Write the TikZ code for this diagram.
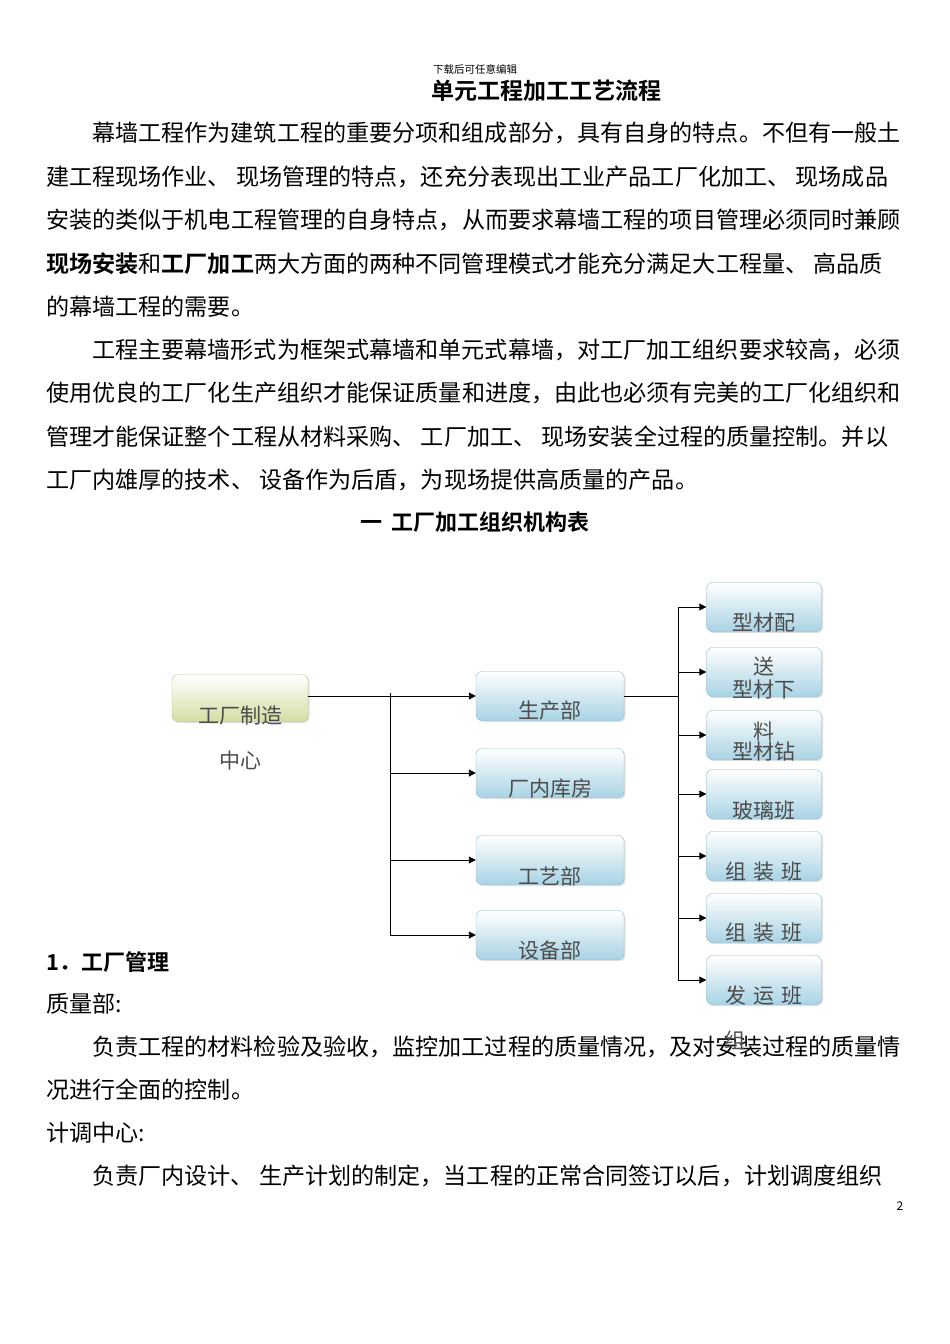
\documentclass[tikz,border=0pt]{standalone}
\usepackage{fontspec}
\setmainfont{Noto Sans CJK SC}
\newfontfamily\cjkb{Noto Sans CJK SC Bold}
\usetikzlibrary{arrows.meta,shadows}
\definecolor{bxb}{HTML}{A9D3E4}
\definecolor{bxd}{HTML}{8DBCD0}
\definecolor{gxb}{HTML}{D3DFA3}
\definecolor{gxd}{HTML}{B5C47E}
\tikzset{
 txt/.style={anchor=west,inner sep=0pt,font=\fontsize{23.1}{23}\selectfont},
 ctr/.style={inner sep=0pt,font=\fontsize{22}{22}\selectfont},
 bbox/.style={draw=bxd,rounded corners=6pt,top color=white,bottom color=bxb,minimum width=148pt,minimum height=49pt,inner sep=0pt,drop shadow={opacity=0.25,shadow xshift=1.5pt,shadow yshift=-1.5pt}},
 sbox/.style={bbox,minimum width=115pt},
 gbox/.style={bbox,draw=gxd,top color=white,bottom color=gxb,minimum width=136pt,minimum height=47pt},
 btxt/.style={inner sep=0pt,text=black!70,font=\fontsize{21}{21}\selectfont},
 con/.style={line width=0.9pt},
 arr/.style={con,-{Triangle[length=7pt,width=7pt]}}
}
\begin{document}
\begin{tikzpicture}[x=1pt,y=-1pt]
\useasboundingbox[fill=white] (0,0) rectangle (950,1344);
\node[inner sep=0pt,font=\fontsize{10.5}{11}\selectfont] (hd) at (475,69) {下载后可任意编辑};
\node[inner sep=0pt,font=\fontsize{23}{23}\selectfont\cjkb] (tt) at (546,91) {单元工程加工工艺流程};
\node[txt] (p1) at (92,133) {幕墙工程作为建筑工程的重要分项和组成部分，具有自身的特点。不但有一般土};
\node[txt] (p2) at (46,177) {建工程现场作业、 现场管理的特点，还充分表现出工业产品工厂化加工、 现场成品};
\node[txt] (p3) at (46,220) {安装的类似于机电工程管理的自身特点，从而要求幕墙工程的项目管理必须同时兼顾};
\node[txt] (p4) at (46,264) {{\cjkb 现场安装}和{\cjkb 工厂加工}两大方面的两种不同管理模式才能充分满足大工程量、 高品质};
\node[txt] (p5) at (46,307) {的幕墙工程的需要。};
\node[txt] (q1) at (92,350) {工程主要幕墙形式为框架式幕墙和单元式幕墙，对工厂加工组织要求较高，必须};
\node[txt] (q2) at (46,393) {使用优良的工厂化生产组织才能保证质量和进度，由此也必须有完美的工厂化组织和};
\node[txt] (q3) at (46,437) {管理才能保证整个工程从材料采购、 工厂加工、 现场安装全过程的质量控制。并以};
\node[txt] (q4) at (46,480) {工厂内雄厚的技术、 设备作为后盾，为现场提供高质量的产品。};
\node[ctr,font=\fontsize{22}{22}\selectfont\cjkb] (h1) at (475,522) {一\ \ 工厂加工组织机构表};
\node[txt,font=\fontsize{22}{22}\selectfont\cjkb] (h2) at (46,962) {1．工厂管理};
\node[txt] (r1) at (46,1004) {质量部:};
\node[txt] (r2) at (92,1047) {负责工程的材料检验及验收，监控加工过程的质量情况，及对安装过程的质量情};
\node[txt] (r3) at (46,1090) {况进行全面的控制。};
\node[txt] (r4) at (46,1133) {计调中心:};
\node[txt] (r5) at (92,1176) {负责厂内设计、 生产计划的制定，当工程的正常合同签订以后，计划调度组织};
\node[inner sep=0pt,font=\fontsize{12}{12}\selectfont] (pg) at (900,1206) {2};
% boxes
\node[gbox] (c) at (240,698) {};
\node[btxt] at (240,715) {工厂制造};
\node[btxt] at (240,760) {中心};
\node[bbox] (s1) at (550,696) {};
\node[bbox] (s2) at (550,773) {};
\node[bbox] (s3) at (550,860) {};
\node[bbox] (s4) at (550,935) {};
\node[btxt] at (550,711) {生产部};
\node[btxt] at (550,789) {厂内库房};
\node[btxt] at (550,876) {工艺部};
\node[btxt] at (550,950) {设备部};
\node[sbox] (t1) at (764,607) {};
\node[sbox] (t2) at (764,672) {};
\node[sbox] (t3) at (764,735) {};
\node[sbox] (t4) at (764,794) {};
\node[sbox] (t5) at (764,856) {};
\node[sbox] (t6) at (764,918) {};
\node[sbox] (t7) at (764,980) {};
\node[btxt] at (764,623) {型材配};
\node[btxt] at (764,667) {送};
\node[btxt] at (764,689) {型材下};
\node[btxt] at (764,731) {料};
\node[btxt] at (764,752) {型材钻};
\node[btxt] at (764,810) {玻璃班};
\node[btxt] at (764,872) {组\,\,装\,\,班};
\node[btxt] at (764,933) {组\,\,装\,\,班};
\node[btxt] at (764,996) {发\,\,运\,\,班};
\node[btxt] at (735,1040) {组};
% connectors
\coordinate (v1t) at (390,693);
\coordinate (v1b) at (390,935);
\coordinate (v2t) at (678,607);
\coordinate (v2b) at (678,980);
\draw[con] (v1t) -- (v1b);
\draw[con] (v2t) -- (v2b);
\draw[arr] (c.east |- s1) -- (s1.west);
\draw[arr] (v1t |- s2) -- (s2.west);
\draw[arr] (v1t |- s3) -- (s3.west);
\draw[arr] (v1t |- s4) -- (s4.west);
\draw[con] (s1.east) -- (v2t |- s1);
\foreach \i in {1,...,7}{\draw[arr] (v2t |- t\i) -- (t\i.west);}
\end{tikzpicture}
\end{document}
